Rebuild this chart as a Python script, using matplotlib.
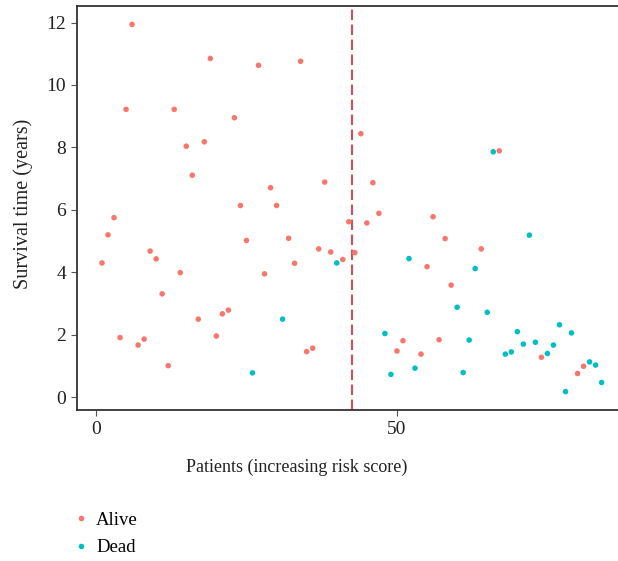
import matplotlib
matplotlib.use("Agg")
import matplotlib.pyplot as plt
from matplotlib.lines import Line2D

plt.rcParams['font.family'] = ['Liberation Serif', 'DejaVu Serif']

# survival time per patient, ordered by increasing risk score
patients = list(range(1, 85))
survival = [4.30, 5.20, 5.75, 1.91, 9.22, 11.94, 1.67, 1.86, 4.68, 4.43,
            3.31, 1.01, 9.22, 3.99, 8.04, 7.11, 2.50, 8.18, 10.85, 1.96,
            2.67, 2.79, 8.95, 6.14, 5.02, 0.78, 10.63, 3.95, 6.71, 6.14,
            2.50, 5.09, 4.29, 10.76, 1.46, 1.57, 4.75, 6.89, 4.65, 4.30,
            4.41, 5.62, 4.63, 8.44, 5.58, 6.87, 5.89, 2.04, 0.73, 1.48,
            1.81, 4.44, 0.93, 1.38, 4.18, 5.78, 1.84, 5.08, 3.59, 2.88,
            0.79, 1.83, 4.12, 4.75, 2.72, 7.86, 7.89, 1.38, 1.45, 2.10,
            1.70, 5.19, 1.76, 1.28, 1.40, 1.67, 2.32, 0.18, 2.06, 0.76,
            0.99, 1.13, 1.03, 0.47]
# patients who died (the rest are alive)
dead = [26, 31, 40, 48, 49, 52, 53, 60, 61, 62, 63, 65, 66,
        68, 69, 70, 71, 72, 73, 75, 76, 77, 78, 79, 82, 83, 84]
status = ['Dead' if p in dead else 'Alive' for p in patients]
cutoff = 42.5

colors = {'Alive': '#F8766D', 'Dead': '#00BFC4'}

fig = plt.figure(figsize=(6.18, 5.61), dpi=100)
ax = fig.add_axes([77/618, 151/561, 549.6/618, 404/561])

for k in ['Alive', 'Dead']:
  xs = [p for p, s in zip(patients, status) if s == k]
  ys = [v for v, s in zip(survival, status) if s == k]
  ax.scatter(xs, ys, s=16, color=colors[k], edgecolors='none', zorder=3)

ln = ax.axvline(cutoff, color='#D0505A', lw=1.5, zorder=2)
ln.set_dashes((5, 2.2))

ax.set_xlim(-3.15, 88.15)
ax.set_ylim(-0.41, 12.53)
ax.set_xticks([0, 50])
ax.set_yticks(range(0, 13, 2))
for sp in ax.spines.values():
  sp.set_color('#333333')
  sp.set_linewidth(1.3)
ax.tick_params(length=4, width=0.8, color='#555555', labelsize=14,
               labelcolor='#222222', pad=4)

ax.set_xlabel('Patients (increasing risk score)', fontsize=13, color='#222222')
ax.set_ylabel('Survival time (years)', fontsize=14.5, color='#222222')
ax.xaxis.set_label_coords(0.40, -0.12)
ax.yaxis.set_label_coords(-0.080, 0.51)

handles = [Line2D([], [], ls='none', marker='o', ms=4, color=colors[k],
                  markeredgewidth=0) for k in ['Alive', 'Dead']]
fig.legend(handles, ['Alive', 'Dead'], loc='upper left',
           bbox_to_anchor=(55/618, 1 - 495/561), frameon=False, fontsize=13.5,
           handlelength=1.0, handletextpad=0.3, labelspacing=0.55)

fig.savefig('out.png', dpi=100)
